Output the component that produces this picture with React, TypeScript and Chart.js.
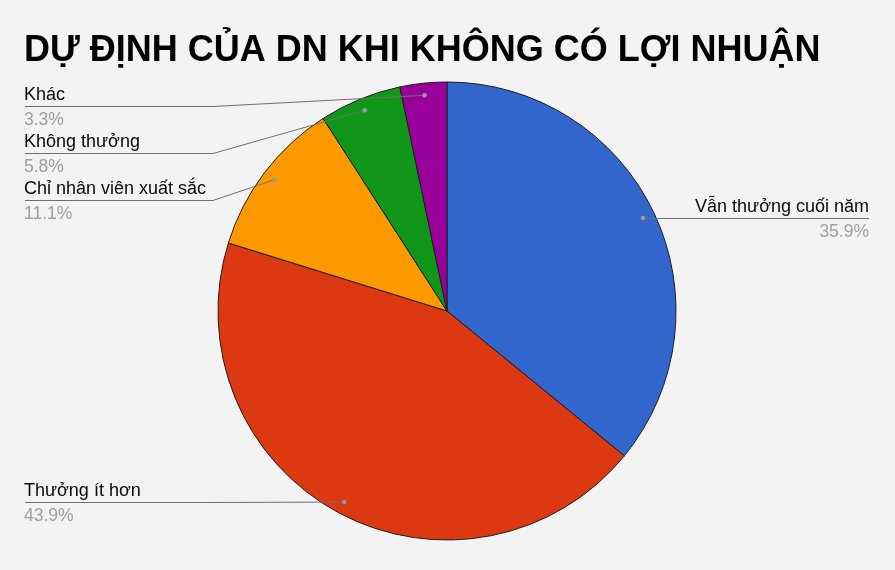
import React, { useEffect, useRef } from 'react';
import { Chart, registerables } from 'chart.js';

Chart.register(...registerables);

const TITLE = 'DỰ ĐỊNH CỦA DN KHI KHÔNG CÓ LỢI NHUẬN';
const categories = ['Vẫn thưởng cuối năm', 'Thưởng ít hơn', 'Chỉ nhân viên xuất sắc', 'Không thưởng', 'Khác'];
const shares = [35.9, 43.9, 11.1, 5.8, 3.3];
const sliceColors = ['#3366cc', '#dc3912', '#ff9900', '#109618', '#990099'];

const FONT = '"Liberation Sans", Arial, sans-serif';

const sideLabels = {
  id: 'sideLabels',
  beforeDraw(chart: any) {
    const ctx = chart.ctx;
    ctx.save();
    ctx.fillStyle = '#f3f3f3';
    ctx.fillRect(0, 0, chart.width, chart.height);
    ctx.restore();
  },
  afterDraw(chart: any) {
    const ctx: CanvasRenderingContext2D = chart.ctx;
    const meta = chart.getDatasetMeta(0);
    const data = chart.data.datasets[0].data as number[];
    const labels = chart.data.labels as string[];
    const total = data.reduce((a, b) => a + b, 0);
    const W = chart.width;

    ctx.save();
    ctx.font = `bold 36px ${FONT}`;
    ctx.fillStyle = '#000';
    ctx.textAlign = 'left';
    ctx.textBaseline = 'alphabetic';
    ctx.fillText(TITLE, 24, 61);

    const items = meta.data.map((arc: any, i: number) => {
      const p = arc.getProps(['x', 'y', 'startAngle', 'endAngle', 'outerRadius'], true);
      const mid = (p.startAngle + p.endAngle) / 2;
      const r = p.outerRadius * 0.947;
      const dx = p.x + Math.cos(mid) * r;
      const dy = p.y + Math.sin(mid) * r;
      return { i, dx, dy, ly: dy, right: Math.cos(mid) > 0, cx: p.x, R: p.outerRadius };
    });

    const place = (arr: any[]) => {
      arr.sort((a, b) => a.dy - b.dy);
      let prev = -Infinity;
      for (const it of arr) {
        it.ly = Math.max(it.dy, 106, prev + 47);
        prev = it.ly;
      }
    };
    const left = items.filter((it: any) => !it.right);
    const right = items.filter((it: any) => it.right);
    place(left);
    place(right);

    const leftX = 25;
    const rightX = W - 26;

    for (const it of items) {
      const ly = Math.round(it.ly) + 0.5;
      ctx.strokeStyle = '#6f6f6f';
      ctx.lineWidth = 1;
      ctx.beginPath();
      if (it.right) {
        ctx.moveTo(it.dx, it.dy);
        ctx.lineTo(it.dx, ly);
        ctx.lineTo(rightX, ly);
      } else {
        const elbow = it.cx - it.R - 5;
        ctx.moveTo(leftX, ly);
        ctx.lineTo(elbow, ly);
        ctx.lineTo(it.dx, it.dy);
      }
      ctx.stroke();

      ctx.fillStyle = '#9a9a9a';
      ctx.beginPath();
      ctx.arc(it.dx, it.dy, 2.3, 0, Math.PI * 2);
      ctx.fill();

      const name = labels[it.i];
      const pct = ((data[it.i] / total) * 100).toFixed(1) + '%';
      ctx.textAlign = it.right ? 'right' : 'left';
      const tx = it.right ? rightX : leftX - 1;
      ctx.font = `18px ${FONT}`;
      ctx.fillStyle = '#0a0a0a';
      ctx.fillText(name, tx, ly - 6.5);
      ctx.font = `17.5px ${FONT}`;
      ctx.fillStyle = '#9e9e9e';
      ctx.fillText(pct, tx, ly + 18);
    }
    ctx.restore();
  },
};

export default function App() {
  const ref = useRef<HTMLCanvasElement | null>(null);

  useEffect(() => {
    document.body.style.margin = '0';
    document.body.style.background = '#f3f3f3';
    if (!ref.current) return;
    const chart = new Chart(ref.current, {
      type: 'pie',
      data: {
        labels: categories,
        datasets: [
          {
            data: shares,
            backgroundColor: sliceColors,
            borderColor: '#1e1e1e',
            borderWidth: 1,
          },
        ],
      },
      options: {
        responsive: false,
        animation: false,
        radius: 229,
        layout: { padding: { top: 52, bottom: 0, left: 0, right: 1 } },
        plugins: {
          legend: { display: false },
          title: { display: false },
          tooltip: { enabled: false },
        },
      },
      plugins: [sideLabels],
    } as any);
    return () => chart.destroy();
  }, []);

  return (
    <div style={{ position: 'fixed', left: 0, top: 0, width: 895, height: 570, background: '#f3f3f3' }}>
      <canvas ref={ref} width={895} height={570} style={{ display: 'block', width: 895, height: 570 }} />
    </div>
  );
}
